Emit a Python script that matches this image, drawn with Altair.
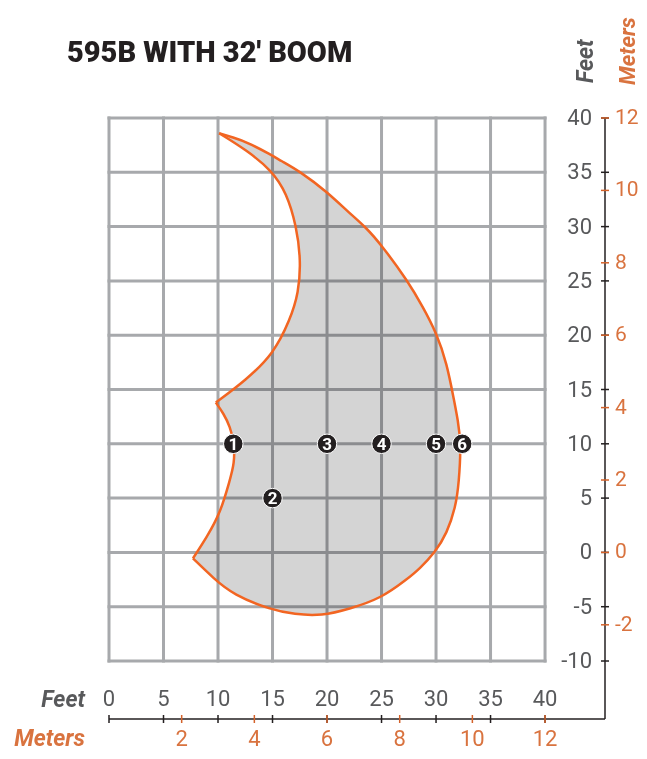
import altair as alt
import pandas as pd

# ---------------- data ----------------
TITLE = "595B WITH 32' BOOM"
FEET_X = [0, 5, 10, 15, 20, 25, 30, 35, 40]
FEET_Y = [-10, -5, 0, 5, 10, 15, 20, 25, 30, 35, 40]
METER_X = [2, 4, 6, 8, 10, 12]
METER_Y = [-2, 0, 2, 4, 6, 8, 10, 12]
FT_PER_M_DRAWN = 40 / 12  # the printed meter scale puts 12 m at 40 ft

# working envelope boundary (feet)
outer_x = [10.1, 11.4, 12.6, 14.9, 15.7, 17.5, 20.0, 22.1, 23.5, 25.0, 27.4, 28.8, 30.0, 31.0,
           31.65, 32.0, 32.3, 32.1, 31.8, 31.0, 29.9, 28.5, 27.3, 25.0, 22.1, 19.5, 17.0, 14.9,
           11.4, 9.6, 7.7]
outer_y = [38.6, 38.2, 37.8, 36.6, 36.1, 35.1, 33.2, 31.2, 30.0, 28.3, 25.0, 22.6, 20.3, 17.4,
           14.0, 12.2, 10.05, 6.4, 4.2, 1.75, 0.0, -1.5, -2.5, -4.2, -5.2, -5.85, -5.7, -5.3,
           -3.9, -2.4, -0.55]
lower_x = [7.7, 9.0, 10.2, 11.1, 11.5, 11.5, 11.1, 10.5, 9.8]
lower_y = [-0.55, 1.45, 3.6, 6.7, 8.2, 10.05, 11.6, 12.8, 13.8]
upper_x = [9.8, 12.6, 15.1, 16.6, 17.4, 17.6, 17.2, 16.3, 14.9, 12.6, 10.1]
upper_y = [13.8, 15.9, 18.3, 21.4, 23.9, 26.9, 30.0, 33.1, 35.2, 37.05, 38.6]

marker_x = [11.4, 15, 20, 25, 30, 32.4]
marker_y = [10, 5, 10, 10, 10, 10]
marker_label = ["1", "2", "3", "4", "5", "6"]

# ---------------- layout ----------------
X_MIN, X_MAX = 0, 45.5
Y_MIN, Y_MAX = -15.34, 40
W, H = 496, 601

FONT = "Roboto, Liberation Sans, sans-serif"
GRAY = "#58595b"
ORANGE_TXT = "#d9733f"
ORANGE_LINE = "#f26522"
BLACK = "#231f20"
GRID = "#a7a9ac"

xs = alt.Scale(domain=[X_MIN, X_MAX], nice=False, zero=False)
ys = alt.Scale(domain=[Y_MIN, Y_MAX], nice=False, zero=False)
X = lambda f, **k: alt.X(f, scale=xs, axis=None, **k)
Y = lambda f, **k: alt.Y(f, scale=ys, axis=None, **k)

# grid
gv = pd.DataFrame({"x": FEET_X, "y": -10, "y2": 40})
gh = pd.DataFrame({"y": FEET_Y, "x": 0, "x2": 40})
grid_v = alt.Chart(gv).mark_rule(color=GRID, strokeWidth=3, strokeCap="square").encode(
    x=X("x:Q"), y=Y("y:Q"), y2="y2:Q")
grid_h = alt.Chart(gh).mark_rule(color=GRID, strokeWidth=3, strokeCap="square").encode(
    y=Y("y:Q"), x=X("x:Q"), x2="x2:Q")

# fill polygon (corner points repeated so the B-spline keeps them sharp)
def triple(xs_, ys_):
    return [xs_[0]] * 2 + xs_ + [xs_[-1]] * 2, [ys_[0]] * 2 + ys_ + [ys_[-1]] * 2

ox, oy = triple(outer_x, outer_y)
lx, ly = triple(lower_x, lower_y)
ux, uy = triple(upper_x, upper_y)
poly_x = ox + lx + ux
poly_y = oy + ly + uy
poly = pd.DataFrame({"x": poly_x, "y": poly_y, "i": range(len(poly_x))})
fill = alt.Chart(poly).mark_line(fill="#d4d4d4", strokeOpacity=0, blend="multiply",
                                 interpolate="basis").encode(
    x=X("x:Q"), y=Y("y:Q"), order="i:Q")

# outline segments
segs = []
for name, sx, sy in [("outer", outer_x, outer_y), ("lower", lower_x, lower_y), ("upper", upper_x, upper_y)]:
    for i, (a, b) in enumerate(zip(sx, sy)):
        segs.append({"seg": name, "i": i, "x": a, "y": b})
seg_df = pd.DataFrame(segs)
outline = alt.Chart(seg_df).mark_line(color=ORANGE_LINE, strokeWidth=2.5,
                                      interpolate="basis").encode(
    x=X("x:Q"), y=Y("y:Q"), detail="seg:N", order="i:Q")

# markers
mk = pd.DataFrame({"x": marker_x, "y": marker_y, "t": marker_label})
circles = alt.Chart(mk).mark_circle(size=380, color=BLACK, opacity=1, stroke="white",
                                    strokeWidth=1).encode(x=X("x:Q"), y=Y("y:Q"))
nums = alt.Chart(mk).mark_text(color="white", font=FONT, fontWeight="bold", fontSize=17,
                               baseline="middle", dy=1).encode(x=X("x:Q"), y=Y("y:Q"), text="t:N")

# axis lines
ax_df = pd.DataFrame({"x": [X_MIN, X_MAX], "x2": [X_MAX, X_MAX], "y": [Y_MIN, Y_MIN], "y2": [Y_MIN, Y_MAX]})
axes = alt.Chart(ax_df).mark_rule(color=BLACK, strokeWidth=1.5).encode(
    x=X("x:Q"), x2="x2:Q", y=Y("y:Q"), y2="y2:Q")

# ticks
bx_ft = pd.DataFrame({"x": FEET_X, "y": Y_MIN, "t": [str(v) for v in FEET_X]})
bx_m = pd.DataFrame({"x": [m * FT_PER_M_DRAWN for m in METER_X], "y": Y_MIN, "t": [str(v) for v in METER_X]})
ry_ft = pd.DataFrame({"y": FEET_Y, "x": X_MAX, "t": [str(v) for v in FEET_Y]})
ry_m = pd.DataFrame({"y": [m * FT_PER_M_DRAWN for m in METER_Y], "x": X_MAX, "t": [str(v) for v in METER_Y]})

TICK_M = "#d4622a"
tb_ft = alt.Chart(bx_ft).mark_rule(color=BLACK, strokeWidth=1.5, yOffset=-4, y2Offset=4).encode(
    x=X("x:Q"), y=Y("y:Q"), y2="y:Q")
tb_m = alt.Chart(bx_m).mark_rule(color=TICK_M, strokeWidth=1.5, yOffset=-4, y2Offset=4).encode(
    x=X("x:Q"), y=Y("y:Q"), y2="y:Q")
tr_ft = alt.Chart(ry_ft).mark_rule(color=BLACK, strokeWidth=1.5, xOffset=-4, x2Offset=4).encode(
    y=Y("y:Q"), x=X("x:Q"), x2="x:Q")
tr_m = alt.Chart(ry_m).mark_rule(color=TICK_M, strokeWidth=1.5, xOffset=-4, x2Offset=4).encode(
    y=Y("y:Q"), x=X("x:Q"), x2="x:Q")

# tick labels
LBL = dict(font=FONT, fontSize=22)
lb_ft = alt.Chart(bx_ft).mark_text(color=GRAY, baseline="alphabetic", align="center", dy=-13, **LBL).encode(
    x=X("x:Q"), y=Y("y:Q"), text="t:N")
lb_m = alt.Chart(bx_m).mark_text(color=ORANGE_TXT, baseline="alphabetic", align="center", dy=27, **LBL).encode(
    x=X("x:Q"), y=Y("y:Q"), text="t:N")
lr_ft = alt.Chart(ry_ft).mark_text(color=GRAY, baseline="middle", align="right", dx=-13, **LBL).encode(
    x=X("x:Q"), y=Y("y:Q"), text="t:N")
lr_m = alt.Chart(ry_m).mark_text(color=ORANGE_TXT, baseline="middle", align="left", dx=10, fontSize=21,
                                 font=FONT).encode(
    x=X("x:Q"), y=Y("y:Q"), text="t:N")

# axis titles and chart title
one = pd.DataFrame({"a": [0]})
TT = dict(font=FONT, fontSize=23, fontWeight="bold", fontStyle="italic", baseline="alphabetic")
t_feet_b = alt.Chart(one).mark_text(color=GRAY, align="right", text="Feet", **TT).encode(
    x=alt.value(-24), y=alt.value(H - 12))
t_m_b = alt.Chart(one).mark_text(color=ORANGE_TXT, align="right", text="Meters", **TT).encode(
    x=alt.value(-24), y=alt.value(H + 27))
t_feet_r = alt.Chart(one).mark_text(color=GRAY, align="left", angle=270, text="Feet", **TT).encode(
    x=alt.value(484), y=alt.value(-35))
t_m_r = alt.Chart(one).mark_text(color=ORANGE_TXT, align="left", angle=270, text="Meters",
                                 font=FONT, fontSize=22, fontWeight="bold", fontStyle="italic",
                                 baseline="alphabetic").encode(
    x=alt.value(526), y=alt.value(-33))
title = alt.Chart(one).mark_text(color=BLACK, align="left", baseline="alphabetic", font=FONT,
                                 fontSize=29, fontWeight=900, text=TITLE).encode(
    x=alt.value(-42), y=alt.value(-56))

chart = alt.layer(
    grid_v, grid_h, fill, outline, circles, nums, axes, tb_ft, tb_m, tr_ft, tr_m,
    lb_ft, lb_m, lr_ft, lr_m, t_feet_b, t_m_b, t_feet_r, t_m_r, title
).properties(
    width=W, height=H, autosize="none",
    padding={"left": 101, "top": 110, "right": 34, "bottom": 32},
).configure_view(stroke=None)

chart.save("out.html", embed_options={"renderer": "svg", "actions": False})
